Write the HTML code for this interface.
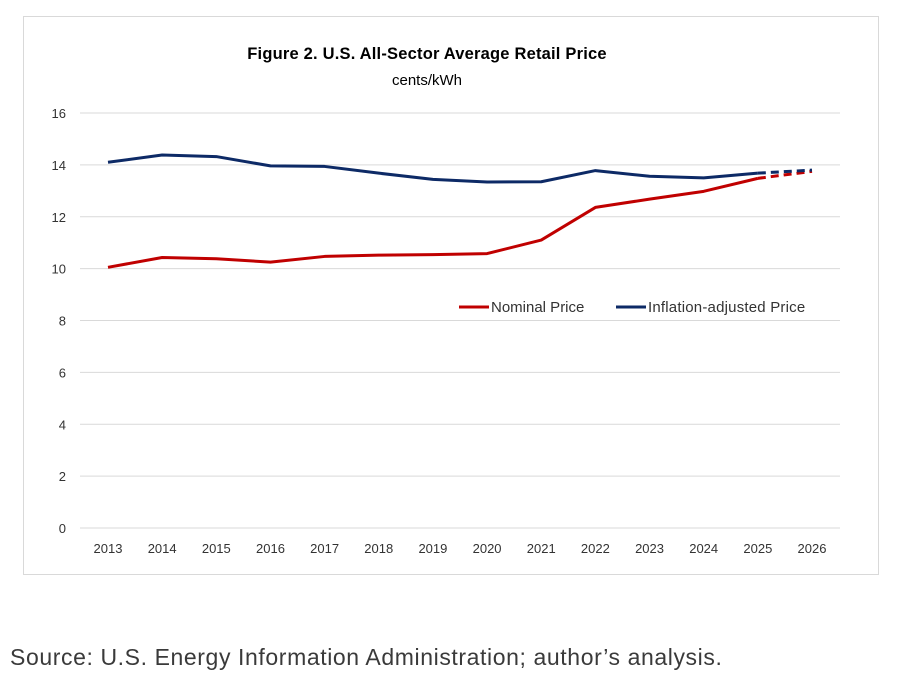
<!DOCTYPE html>
<html><head><meta charset="utf-8"><style>
body{margin:0;background:#fff;width:906px;height:682px;overflow:hidden;font-family:"Liberation Sans",sans-serif}
#frame{position:absolute;left:23px;top:16px;width:856px;height:559px;border:1px solid #d9d9d9;box-sizing:border-box}
#src{position:absolute;left:10px;top:644px;font-size:23px;letter-spacing:0.6px;color:#3a3a3a}
</style></head><body>
<div id="frame"></div>
<svg id="chart" width="906" height="600" style="position:absolute;left:0;top:0">
<text x="427" y="59" text-anchor="middle" font-size="16.5" font-weight="bold" letter-spacing="0.2" fill="#000">Figure 2. U.S. All-Sector Average Retail Price</text>
<text x="427" y="85" text-anchor="middle" font-size="15" fill="#000">cents/kWh</text>
<g id="grid"></g><g id="lines"></g>
<g>
<line x1="459" y1="307" x2="489" y2="307" stroke="#c00000" stroke-width="3"/>
<text x="491" y="312" font-size="15" fill="#333">Nominal Price</text>
<line x1="616" y1="307" x2="646" y2="307" stroke="#0d2a66" stroke-width="3"/>
<text x="648" y="312" font-size="15" letter-spacing="0.2" fill="#333">Inflation-adjusted Price</text>
</g>
</svg>
<div id="src">Source: U.S. Energy Information Administration; author’s analysis.</div>
<script>
const years=[2013,2014,2015,2016,2017,2018,2019,2020,2021,2022,2023,2024,2025,2026];
const nominal=[10.05,10.43,10.38,10.25,10.47,10.52,10.54,10.58,11.1,12.36,12.68,12.98,13.48,13.75];
const inflation=[14.1,14.38,14.32,13.96,13.94,13.68,13.44,13.34,13.35,13.78,13.56,13.5,13.68,13.8];
const yTicks=[0,2,4,6,8,10,12,14,16];
const NS='http://www.w3.org/2000/svg';
const x=i=>108+i*(812-108)/(years.length-1);
const y=v=>528-v*(528-113)/16;
const grid=document.getElementById('grid'),lines=document.getElementById('lines');
function mk(t,a,p){const e=document.createElementNS(NS,t);for(const k in a)e.setAttribute(k,a[k]);p.appendChild(e);return e;}
yTicks.forEach(t=>{
 const l=mk('line',{x1:80,x2:840,y1:y(t),y2:y(t),stroke:'#d9d9d9','stroke-width':1},grid);
 
 
 const tx=mk('text',{x:66,y:y(t)+5,'text-anchor':'end','font-size':13,fill:'#333'},grid);tx.textContent=t;
 
 
});
years.forEach((yr,i)=>{
 const tx=mk('text',{x:x(i),y:553,'text-anchor':'middle','font-size':13,fill:'#333'},grid);tx.textContent=yr;
 
 
});
function series(vals,color,name){
 const n=vals.length;
 const solid=vals.slice(0,n-1).map((v,i)=>x(i)+','+y(v)).join(' ');
 const p=mk('polyline',{points:solid,fill:'none',stroke:color,'stroke-width':3,'stroke-linejoin':'round'},lines);
 
 
 const d=mk('line',{x1:x(n-2),y1:y(vals[n-2]),x2:x(n-1),y2:y(vals[n-1]),stroke:color,'stroke-width':3,'stroke-dasharray':'8,5'},lines);
 
 
}
series(nominal,'#c00000','nominal');
series(inflation,'#0d2a66','inflation');
</script>
</body></html>
